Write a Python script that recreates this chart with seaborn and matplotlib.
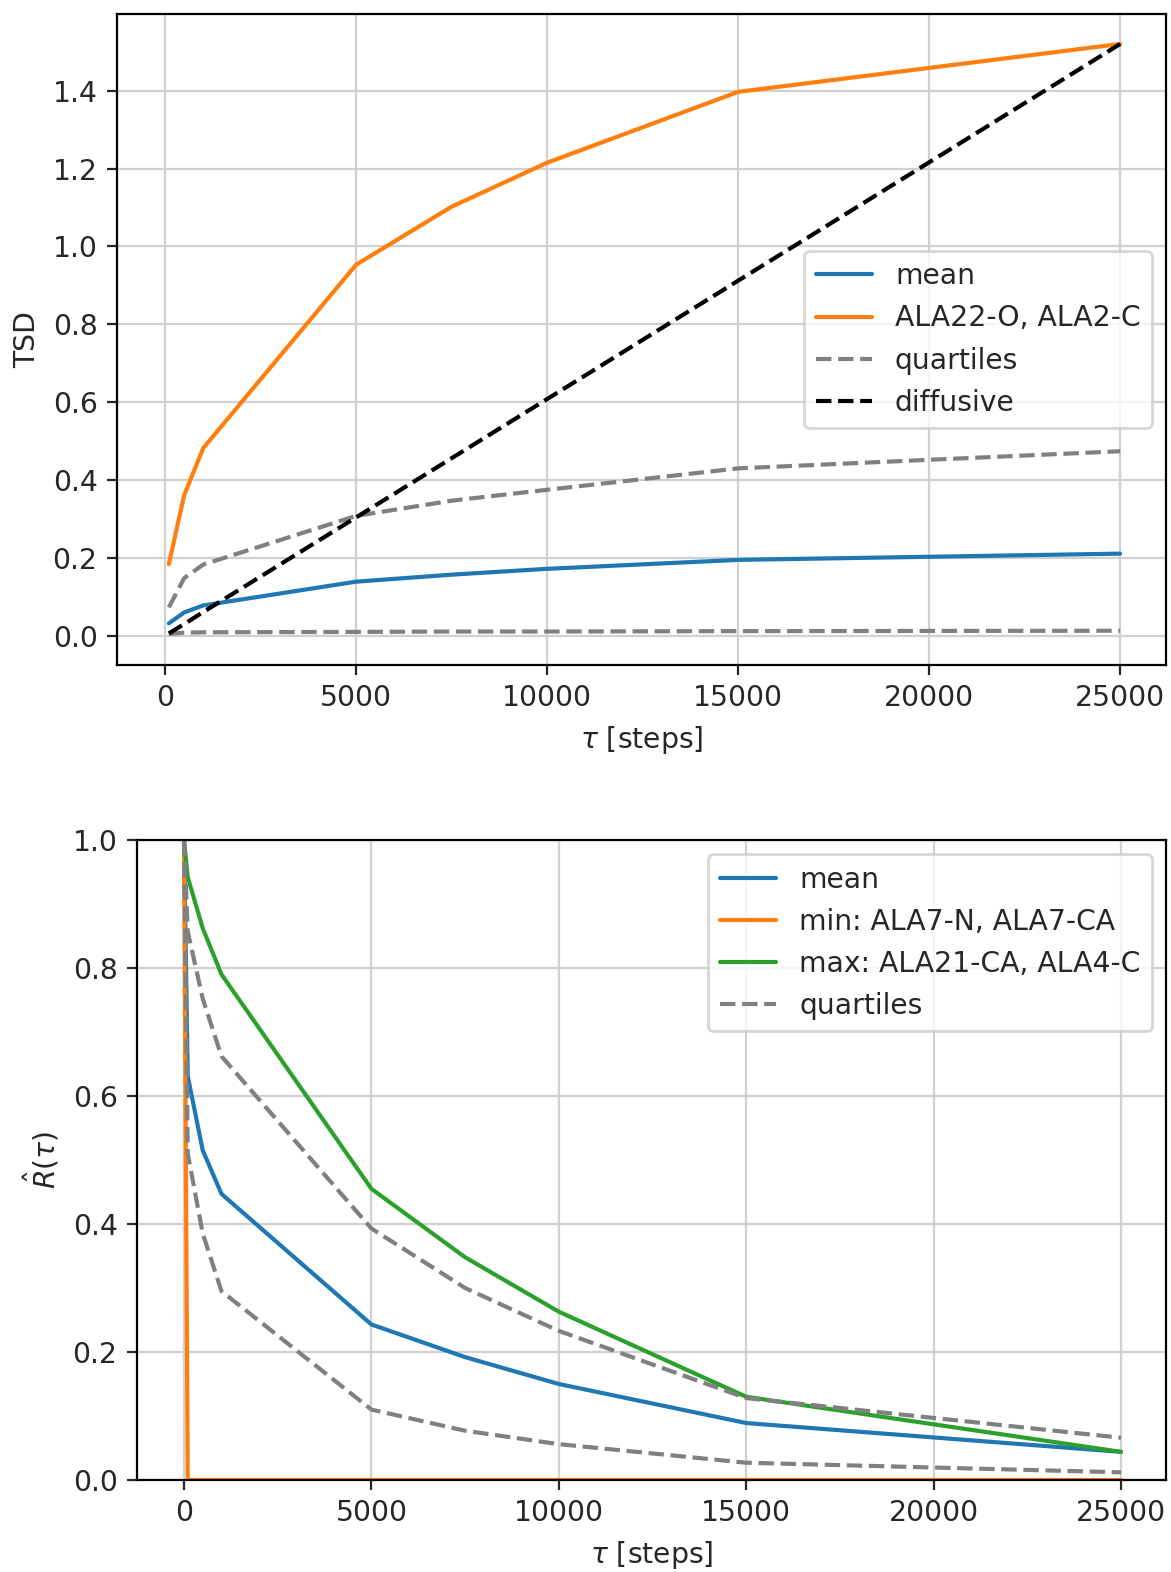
import numpy as np
import pandas as pd
import seaborn as sns
import matplotlib
matplotlib.use("Agg")
import matplotlib.pyplot as plt

# Lag times (steps)
lags = [100, 500, 1000, 5000, 7500, 10000, 15000, 25000]
lags_r = [0, 100, 500, 1000, 5000, 7500, 10000, 15000, 25000]

# TSD panel
tsd_mean = [0.032, 0.060, 0.078, 0.139, 0.157, 0.172, 0.195, 0.211]
tsd_max = [0.184, 0.361, 0.482, 0.953, 1.102, 1.215, 1.397, 1.520]
tsd_q1 = [0.005, 0.008, 0.009, 0.010, 0.011, 0.011, 0.012, 0.013]
tsd_q3 = [0.073, 0.148, 0.183, 0.308, 0.347, 0.375, 0.430, 0.474]
tsd_diff = [0.006, 0.030, 0.061, 0.304, 0.456, 0.608, 0.912, 1.520]

# Autocorrelation panel
r_mean = [1.0, 0.631, 0.515, 0.447, 0.243, 0.192, 0.150, 0.089, 0.044]
r_min = [1.0, 0.0, 0.0, 0.0, 0.0, 0.0, 0.0, 0.0, 0.0]
r_max = [1.0, 0.942, 0.862, 0.790, 0.455, 0.348, 0.263, 0.130, 0.044]
r_q1 = [1.0, 0.510, 0.385, 0.295, 0.110, 0.077, 0.056, 0.027, 0.012]
r_q3 = [1.0, 0.857, 0.752, 0.662, 0.393, 0.300, 0.233, 0.128, 0.066]

sns.set_theme(style="ticks", rc={
    "axes.grid": True,
    "grid.color": ".82",
    "grid.linewidth": 0.8,
    "axes.edgecolor": "black",
    "axes.linewidth": 0.8,
    "font.size": 10,
    "axes.labelsize": 10.2,
    "xtick.labelsize": 10.2,
    "ytick.labelsize": 10.2,
    "legend.fontsize": 10.2,
    "lines.linewidth": 1.5,
    "xtick.major.size": 3.5,
    "ytick.major.size": 3.5,
    "xtick.major.width": 0.8,
    "ytick.major.width": 0.8,
    "xtick.major.pad": 3.5,
    "ytick.major.pad": 3.5,
    "axes.labelpad": 4.0,
})
plt.rcParams["font.family"] = ["DejaVu Sans"]

blue, orange, green = "#1f77b4", "#ff7f0e", "#2ca02c"

fig = plt.figure(figsize=(1171 / 200, 1572 / 200), dpi=200)
ax1 = fig.add_axes([117 / 1171, 1 - 665 / 1572, (1166 - 117) / 1171, (665 - 14) / 1572])
ax2 = fig.add_axes([137 / 1171, 1 - 1480 / 1572, (1166 - 137) / 1171, (1480 - 840) / 1572])

sns.lineplot(x=lags, y=tsd_mean, ax=ax1, color=blue, label="mean")
sns.lineplot(x=lags, y=tsd_max, ax=ax1, color=orange, label="ALA22-O, ALA2-C")
sns.lineplot(x=lags, y=tsd_q3, ax=ax1, color="gray", linestyle="--", label="quartiles")
sns.lineplot(x=lags, y=tsd_q1, ax=ax1, color="gray", linestyle="--")
sns.lineplot(x=lags, y=tsd_diff, ax=ax1, color="black", linestyle="--", label="diffusive")
ax1.set_xlabel(r"$\tau$ [steps]")
ax1.set_ylabel("TSD")
ax1.set_xticks([0, 5000, 10000, 15000, 20000, 25000])
ax1.set_yticks(np.arange(0, 1.41, 0.2))
ax1.set_xlim(-1257, 26200)
ax1.set_ylim(-0.075, 1.597)
ax1.legend(loc="center right")

sns.lineplot(x=lags_r, y=r_mean, ax=ax2, color=blue, label="mean")
sns.lineplot(x=lags_r, y=r_min, ax=ax2, color=orange, label="min: ALA7-N, ALA7-CA")
sns.lineplot(x=lags_r, y=r_max, ax=ax2, color=green, label="max: ALA21-CA, ALA4-C")
sns.lineplot(x=lags_r, y=r_q3, ax=ax2, color="gray", linestyle="--", label="quartiles")
sns.lineplot(x=lags_r, y=r_q1, ax=ax2, color="gray", linestyle="--")
ax2.set_xlabel(r"$\tau$ [steps]")
ax2.set_ylabel(r"$\hat{R}(\tau)$")
ax2.set_xticks([0, 5000, 10000, 15000, 20000, 25000])
ax2.set_yticks(np.arange(0, 1.01, 0.2))
ax2.set_xlim(-1254, 26200)
ax2.set_ylim(0, 1.0)
ax2.legend(loc="upper right")

for ax in (ax1, ax2):
    for s in ax.spines.values():
        s.set_visible(True)
        s.set_color("black")

fig.savefig("out.png", dpi=200)
